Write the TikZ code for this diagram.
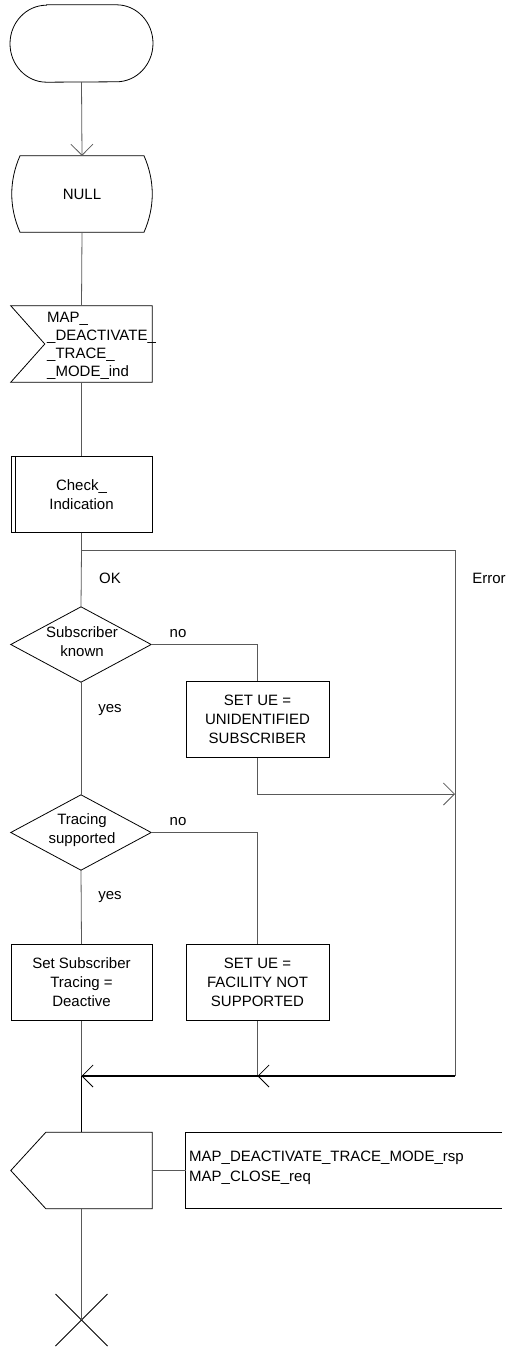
\documentclass[tikz,border=0pt]{standalone}
\usepackage{fontspec}
\setmainfont{Liberation Sans}
\usetikzlibrary{arrows.meta}
\tikzset{
  txt/.style={font=\fontsize{15}{19}\selectfont, align=center, inner sep=0pt},
  frame/.style={txt, minimum width=141pt, minimum height=76pt, inner sep=0pt},
  tbox/.style={frame, draw, line width=0.8pt},
  wide/.style={minimum width=143pt},
  shp/.style={draw, line width=0.8pt},
  conn/.style={draw=black!65, line width=0.8pt},
  merge/.style={draw=black, line width=1.4pt},
  barb/.style={-{Straight Barb[length=11pt,width=22pt,line width=0.8pt]}},
  lbl/.style={font=\fontsize{15}{19}\selectfont, inner sep=0pt}
}
\begin{document}
\begin{tikzpicture}[x=1pt,y=-1pt]
\useasboundingbox (0,0) rectangle (506,1348);
% start terminator
\node[frame, minimum height=77pt] (start) at (81.5,43.5) {};
\draw[shp] ([xshift=-35pt]start.north) -- ([xshift=35pt]start.north)
  arc[start angle=90,end angle=-90,x radius=36.5pt,y radius=38.5pt]
  -- ([xshift=-35pt]start.south)
  arc[start angle=270,end angle=90,x radius=36.5pt,y radius=38.5pt] -- cycle;
% NULL state
\node[frame] (null) at (82,194) {NULL};
\draw[shp] ([xshift=-62pt]null.north) -- ([xshift=62pt]null.north)
  .. controls ([xshift=73pt,yshift=-25pt]null.north) and ([xshift=73pt,yshift=25pt]null.south) .. ([xshift=62pt]null.south)
  -- ([xshift=-62pt]null.south)
  .. controls ([xshift=-73pt,yshift=25pt]null.south) and ([xshift=-73pt,yshift=-25pt]null.north) .. ([xshift=-62pt]null.north) -- cycle;
% input signal
\node[frame] (in) at (81.5,344) {};
\draw[shp] (in.north west) -- (in.north east) -- (in.south east) -- (in.south west) -- ([xshift=34pt]in.west) -- cycle;
\node[txt, align=left, anchor=west, font=\fontsize{15}{18}\selectfont] (intext) at (47,346) {MAP\_\\\_DEACTIVATE\_\\\_TRACE\_\\\_MODE\_ind};
% procedure call
\node[tbox] (check) at (81.5,494.5) {Check\_\\Indication};
\draw[shp] ([xshift=5pt]check.north west) -- ([xshift=5pt]check.south west);
% decision 1
\node[frame, minimum width=140pt, minimum height=75pt] (dec1) at (81,644.5) {};
\draw[shp] (dec1.north) -- (dec1.east) -- (dec1.south) -- (dec1.west) -- cycle;
\node[txt] (dec1t) at (82,642) {Subscriber\\known};
\node[tbox, wide] (box1) at (257.5,719.5) {SET UE =\\UNIDENTIFIED\\SUBSCRIBER};
% decision 2
\node[frame, minimum width=140pt, minimum height=75pt] (dec2) at (81,832.5) {};
\draw[shp] (dec2.north) -- (dec2.east) -- (dec2.south) -- (dec2.west) -- cycle;
\node[txt] (dec2t) at (82,830) {Tracing\\supported};
\node[tbox] (box2) at (81.5,982.5) {Set Subscriber\\Tracing =\\Deactive};
\node[tbox, wide] (box3) at (257.5,982.5) {SET UE =\\FACILITY NOT\\SUPPORTED};
% output signal
\node[frame] (out) at (81.5,1170.5) {};
\draw[shp] ([xshift=35pt]out.north west) -- (out.north east) -- (out.south east) -- ([xshift=35pt]out.south west) -- (out.west) -- cycle;
\node[frame, minimum width=316pt] (outbox) at (344,1170.5) {};
\draw[shp] (outbox.north east) -- (outbox.north west) -- (outbox.south west) -- (outbox.south east);
\node[txt, align=left, anchor=west, font=\fontsize{15}{20}\selectfont] (outtext) at (189,1168) {MAP\_DEACTIVATE\_TRACE\_MODE\_rsp\\MAP\_CLOSE\_req};
% stop
\coordinate (stop) at (81.5,1320);
\draw[shp] ([shift={(-26pt,-26pt)}]stop) -- ([shift={(26pt,26pt)}]stop);
\draw[shp] ([shift={(-26pt,26pt)}]stop) -- ([shift={(26pt,-26pt)}]stop);
% coordinates
\coordinate (e0) at (81.5,550);
\coordinate (j1) at (455,794);
\coordinate (errbot) at (455,1076);
\coordinate (m3) at (257.5,1076);
\coordinate (m2) at (81.5,1076);
% connectors
\draw[conn, barb] (start.south) -- (null.north);
\draw[conn] (null.south) -- (in.north);
\draw[conn] (in.south) -- (check.north);
\draw[conn] (check.south) -- (e0) -- (dec1.north);
\draw[conn] (e0) -| (errbot);
\draw[conn] (dec1.east) -| (box1.north);
\draw[conn] (dec1.south) -- (dec2.north);
\draw[conn, barb] (box1.south) |- (j1);
\draw[conn] (dec2.east) -| (box3.north);
\draw[conn] (dec2.south) -- (box2.north);
\draw[conn] (box3.south) -- (m3);
\draw[conn] (box2.south) -- (m2);
\draw[merge, barb] (errbot) -- (m3);
\draw[merge, barb] (m3) -- (m2);
\draw[merge] (m2) -- (out.north);
\draw[conn] (out.east) -- (outbox.west);
\draw[conn] (out.south) -- (stop);
% labels
\node[lbl] (ok) at (110,578) {OK};
\node[lbl] (err) at (489,578) {Error};
\node[lbl] (no1) at (178,634) {no};
\node[lbl] (yes1) at (110,710) {yes};
\node[lbl] (no2) at (178,822) {no};
\node[lbl] (yes2) at (110,897) {yes};
\end{tikzpicture}
\end{document}
